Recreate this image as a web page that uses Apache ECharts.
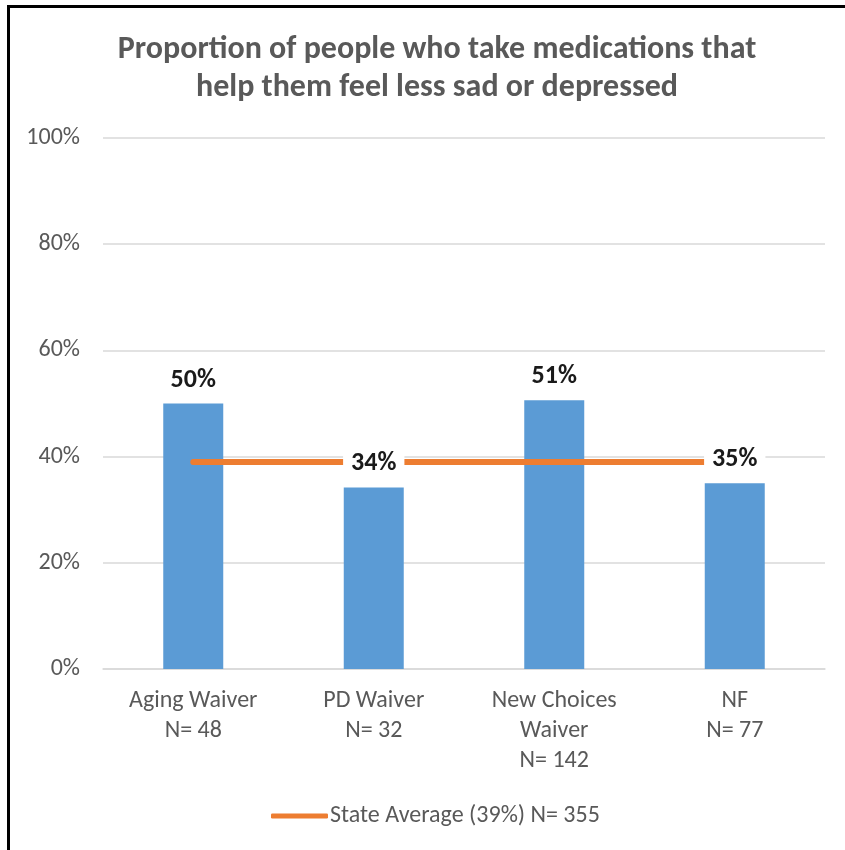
<!DOCTYPE html>
<html>
<head>
<meta charset="utf-8">
<script src="https://cdn.jsdelivr.net/npm/echarts@6/dist/echarts.min.js"></script>
<style>
html,body{margin:0;padding:0;background:#fff;}
#wrap{position:relative;width:845px;height:850px;overflow:hidden;}
#frame{position:absolute;left:7px;top:5px;width:838px;height:845px;border-top:3px solid #000;border-left:3px solid #000;box-sizing:border-box;pointer-events:none;z-index:2;}
#chart{position:absolute;left:0;top:0;width:845px;height:850px;}
</style>
</head>
<body>
<div id="wrap"><div id="chart"></div><div id="frame"></div></div>
<script>
const categories = ['Aging Waiver\nN= 48', 'PD Waiver\nN= 32', 'New Choices\nWaiver\nN= 142', 'NF\nN= 77'];
const values = [50, 34.2, 50.6, 35];
const labels = ['50%', '34%', '51%', '35%'];
const stateAvg = [39, 39, 39, 39];
const stateName = 'State Average (39%) N= 355';
const yTicks = [0, 20, 40, 60, 80, 100];

const font = 'Calibri, Carlito, "Open Sans", "Liberation Sans", sans-serif';
const chart = echarts.init(document.getElementById('chart'), null, {renderer: 'canvas'});
chart.setOption({
  animation: false,
  backgroundColor: '#fff',
  title: {
    text: 'Proportion of people who take medications that\nhelp them feel less sad or depressed',
    left: 432,
    textAlign: 'center',
    top: 26,
    textStyle: {fontFamily: font, fontSize: 32, fontWeight: 'bold', color: '#595959', lineHeight: 38}
  },
  grid: {left: 103, right: 20, top: 138, bottom: 181},
  legend: {
    data: [stateName],
    left: 266,
    top: 799,
    icon: 'roundRect',
    itemWidth: 57,
    itemHeight: 5,
    itemGap: 0,
    textStyle: {fontFamily: font, fontSize: 24, color: '#595959', padding: [0, 0, 0, -3]}
  },
  xAxis: {
    type: 'category',
    data: categories,
    axisTick: {show: false},
    axisLine: {lineStyle: {color: '#d9d9d9', width: 1.5}},
    axisLabel: {fontFamily: font, fontSize: 24, color: '#595959', lineHeight: 30, margin: 17, interval: 0}
  },
  yAxis: {
    type: 'value',
    min: yTicks[0],
    max: yTicks[yTicks.length - 1],
    interval: 20,
    axisLine: {show: false},
    axisTick: {show: false},
    splitLine: {lineStyle: {color: '#d9d9d9', width: 1.5}},
    axisLabel: {fontFamily: font, fontSize: 24, color: '#595959', margin: 23, formatter: v => v + '%'}
  },
  series: [
    {
      name: 'values',
      type: 'bar',
      data: values,
      barWidth: 60,
      z: 2,
      itemStyle: {color: '#5B9BD5'}
    },
    {
      name: stateName,
      type: 'line',
      data: stateAvg,
      symbol: 'none',
      z: 3,
      lineStyle: {color: '#ED7D31', width: 6, cap: 'round'},
      itemStyle: {color: '#ED7D31'}
    },
    {
      name: 'labels',
      type: 'scatter',
      data: values,
      symbolSize: 1,
      z: 5,
      zlevel: 1,
      itemStyle: {color: 'rgba(0,0,0,0)', opacity: 1},
      silent: true,
      label: {
        show: true,
        position: 'top',
        distance: 10,
        opacity: 1,
        formatter: p => labels[p.dataIndex],
        fontFamily: font,
        fontSize: 26,
        fontWeight: 'bold',
        color: '#1a1a1a',
        backgroundColor: '#ffffff',
        padding: [2, 8, 0, 8]
      }
    }
  ]
});
</script>
</body>
</html>
